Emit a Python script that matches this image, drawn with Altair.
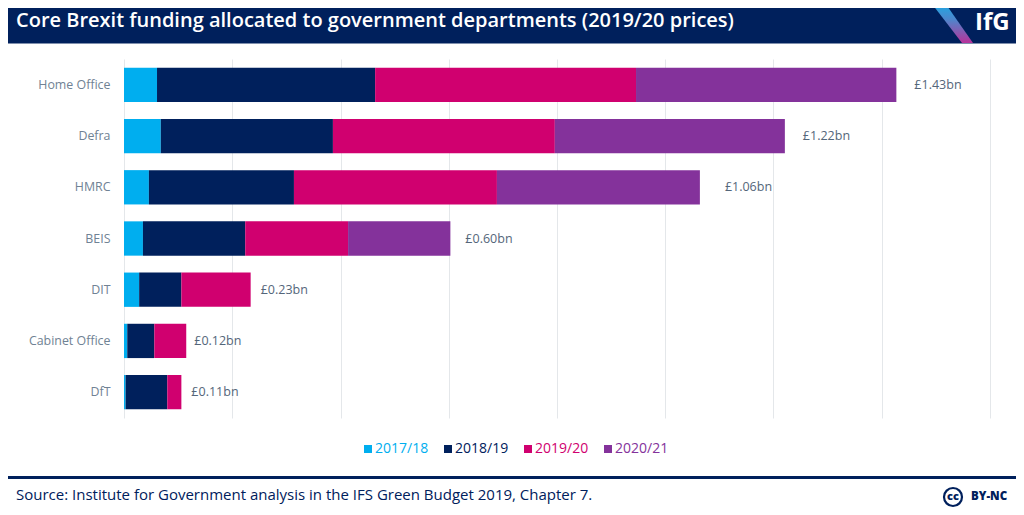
import altair as alt
import pandas as pd

departments = ["Home Office", "Defra", "HMRC", "BEIS", "DIT", "Cabinet Office", "DfT"]
years = ["2017/18", "2018/19", "2019/20", "2020/21"]
y2017 = [0.061, 0.068, 0.046, 0.035, 0.028, 0.006, 0.003]
y2018 = [0.403, 0.318, 0.268, 0.189, 0.078, 0.050, 0.077]
y2019 = [0.482, 0.410, 0.375, 0.190, 0.128, 0.059, 0.026]
y2020 = [0.481, 0.425, 0.375, 0.189, None, None, None]
totals = [1.427, 1.221, 1.064, 0.603, 0.234, 0.115, 0.106]
total_labels = ["£1.43bn", "£1.22bn", "£1.06bn", "£0.60bn", "£0.23bn", "£0.12bn", "£0.11bn"]
tick_values = [0, 0.2, 0.4, 0.6, 0.8, 1.0, 1.2, 1.4, 1.6]
colors = ["#00aeef", "#00205c", "#d0006f", "#84329b"]

FONT = "Open Sans"
NAVY = "#00205c"
ORIGIN_X, ORIGIN_Y = 124, 59


def px(x):
    return alt.value(x - ORIGIN_X)


def py(y):
    return alt.value(y - ORIGIN_Y)


rows = []
for year, series in zip(years, [y2017, y2018, y2019, y2020]):
    for i, (dept, v) in enumerate(zip(departments, series)):
        if v is not None:
            rows.append({"dept": dept, "year": year, "value": v, "order": years.index(year)})
df = pd.DataFrame(rows)

x_scale = alt.Scale(domain=[0, 1.6], nice=False)
y_scale = alt.Scale(domain=departments, paddingInner=0.33, paddingOuter=0.17)

label_expr = "datum.label == '2017/18' ? '%s' : datum.label == '2018/19' ? '%s' : datum.label == '2019/20' ? '%s' : '%s'" % tuple(colors)

bars = alt.Chart(df).mark_bar().encode(
    x=alt.X("sum(value):Q", scale=x_scale, stack="zero",
            axis=alt.Axis(values=tick_values, grid=True, gridColor="#e4e7ea", gridWidth=1,
                          labels=False, ticks=False, domain=False, title=None)),
    y=alt.Y("dept:N", scale=y_scale, sort=departments,
            axis=alt.Axis(title=None, domain=False, ticks=False, labelPadding=14, labelFont=FONT,
                          labelFontSize=12.4, labelColor="#708294")),
    color=alt.Color("year:N", scale=alt.Scale(domain=years, range=colors),
                    legend=alt.Legend(title=None, orient="none", legendX=237, legendY=383,
                                      direction="horizontal", symbolType="square", symbolSize=64,
                                      symbolOpacity=1, labelFont=FONT, labelFontSize=14,
                                      labelOffset=0, columnPadding=12,
                                      labelColor=alt.ExprRef(label_expr))),
    order=alt.Order("order:Q"),
)

# Hand-placed gaps between bar ends and their labels, as in the original.
gaps = [18, 18, 25, 15, 10, 8, 10]
label_layers = []
for dept, total, text, gap in zip(departments, totals, total_labels, gaps):
    label_layers.append(
        alt.Chart(pd.DataFrame({"dept": [dept], "total": [total], "text": [text]}))
        .mark_text(align="left", baseline="middle", dx=gap, font=FONT, fontSize=12.5, color="#54667a")
        .encode(x=alt.X("total:Q", scale=x_scale), y=alt.Y("dept:N", scale=y_scale, sort=departments),
                text="text:N")
    )

one = alt.Data(values=[{}])
header = alt.Chart(one).mark_rect(color=NAVY).encode(x=px(0), x2=px(1030), y=py(0), y2=py(43.5))
footer_rule = alt.Chart(one).mark_rect(color=NAVY).encode(x=px(0), x2=px(1030), y=py(476), y2=py(479))

stripe = alt.Chart(pd.DataFrame({"y": [-59, -16], "x": [805, 838], "x2": [819, 849]})).mark_area(
    orient="horizontal",
    color=alt.Gradient(gradient="linear", x1=0, y1=0, x2=0, y2=1,
                       stops=[alt.GradientStop(offset=0, color="#12b2ea"),
                              alt.GradientStop(offset=0.45, color="#4d86cc"),
                              alt.GradientStop(offset=1, color="#b8329a")]),
).encode(
    y=alt.Y("y:Q", scale=None, axis=None),
    x=alt.X("x:Q", scale=None, axis=None),
    x2="x2:Q",
)


def note(text, x, y, size, color, weight=400, align="left"):
    return alt.Chart(one).mark_text(text=text, align=align, baseline="middle", font=FONT, fontSize=size,
                                    fontWeight=weight, color=color).encode(x=px(x), y=py(y))


title = note("Core Brexit funding allocated to government departments (2019/20 prices)", 16, 21, 20, "white", 600)
logo = note("IfG", 975, 23, 24, "white", 700)
source = note("Source: Institute for Government analysis in the IFS Green Budget 2019, Chapter 7.", 16, 495, 15, NAVY)
cc_ring = alt.Chart(one).mark_point(shape="circle", size=324, filled=False, strokeWidth=2.2, color=NAVY, opacity=1).encode(
    x=px(953), y=py(497))
cc_text = note("cc", 953, 496.5, 11, NAVY, 800, "center")
by_nc = note("BY-NC", 971, 497, 11.5, NAVY, 800)

chart = alt.layer(
    header, stripe, title, logo, bars, *label_layers, footer_rule, source, cc_ring, cc_text, by_nc
).properties(
    width=866, height=359,
    padding={"left": 116, "top": 51, "right": 26, "bottom": 97},
    autosize=alt.AutoSizeParams(type="none"),
).configure_view(stroke=None)

chart.save("out.html", embed_options={"renderer": "svg", "actions": False})
